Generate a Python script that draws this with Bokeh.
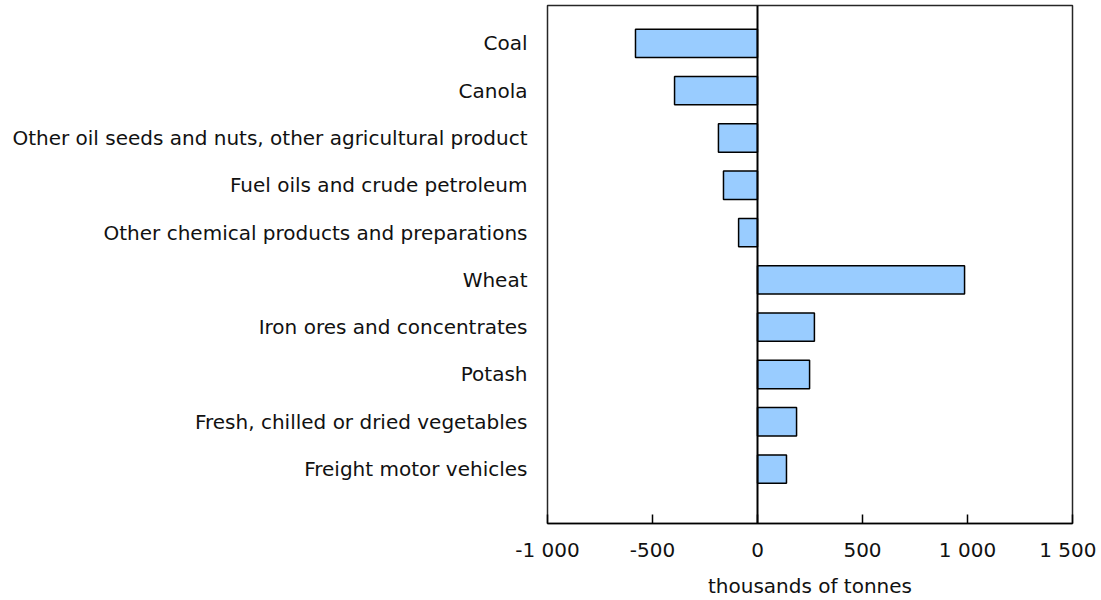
from bokeh.plotting import figure
from bokeh.models import FixedTicker, Span, ColumnDataSource
from bokeh.embed import file_html
from bokeh.resources import INLINE

categories = [
    "Coal",
    "Canola",
    "Other oil seeds and nuts, other agricultural product",
    "Fuel oils and crude petroleum",
    "Other chemical products and preparations",
    "Wheat",
    "Iron ores and concentrates",
    "Potash",
    "Fresh, chilled or dried vegetables",
    "Freight motor vehicles",
]
values = [-581, -395, -186, -162, -90, 986, 271, 248, 186, 138]
x_ticks = [-1000, -500, 0, 500, 1000, 1500]
x_tick_labels = ["-1 000", "-500", "0", "500", "1 000", "1 500"]

n = len(categories)
ypos = [n - i for i in range(n)]

FONT = "DejaVu Sans"
TXT = "#111111"
FS = "20px"

p = figure(width=1096, height=600, output_backend="svg", toolbar_location=None,
           x_range=(-1000, 1500), y_range=(-0.15, 10.8))
p.min_border_left = 547
p.min_border_right = 24
p.min_border_top = 5
p.min_border_bottom = 70

src = ColumnDataSource(dict(y=ypos, v=values))
p.hbar(y="y", left=0, right="v", height=0.6, source=src,
       fill_color="#99CCFF", line_color="black", line_width=1.5)

p.add_layout(Span(location=0, dimension="height", line_color="black", line_width=2))

p.xgrid.visible = False
p.ygrid.visible = False
p.outline_line_color = "black"
p.outline_line_width = 1.5
p.outline_line_alpha = 0.85

xa = p.xaxis[0]
xa.ticker = FixedTicker(ticks=x_ticks)
xa.major_label_overrides = {t: l for t, l in zip(x_ticks, x_tick_labels)}
xa.major_tick_in = 9
xa.major_tick_out = 0
xa.minor_tick_line_color = None
xa.major_tick_line_color = "black"
xa.major_tick_line_width = 1.5
xa.axis_line_color = "black"
xa.axis_line_width = 1.5
xa.major_label_standoff = 14
xa.major_label_text_font = FONT
xa.major_label_text_font_size = FS
xa.major_label_text_color = TXT
xa.axis_label = "thousands of tonnes"
xa.axis_label_text_font = FONT
xa.axis_label_text_font_size = FS
xa.axis_label_text_font_style = "normal"
xa.axis_label_text_color = TXT
xa.axis_label_standoff = 9

ya = p.yaxis[0]
ya.ticker = FixedTicker(ticks=ypos)
ya.major_label_overrides = {y: c for y, c in zip(ypos, categories)}
ya.major_tick_line_color = None
ya.major_tick_out = 0
ya.major_tick_in = 0
ya.minor_tick_line_color = None
ya.axis_line_color = None
ya.major_label_standoff = 20
ya.major_label_text_font = FONT
ya.major_label_text_font_size = FS
ya.major_label_text_color = TXT

open("out.html", "w").write(file_html(p, INLINE))
